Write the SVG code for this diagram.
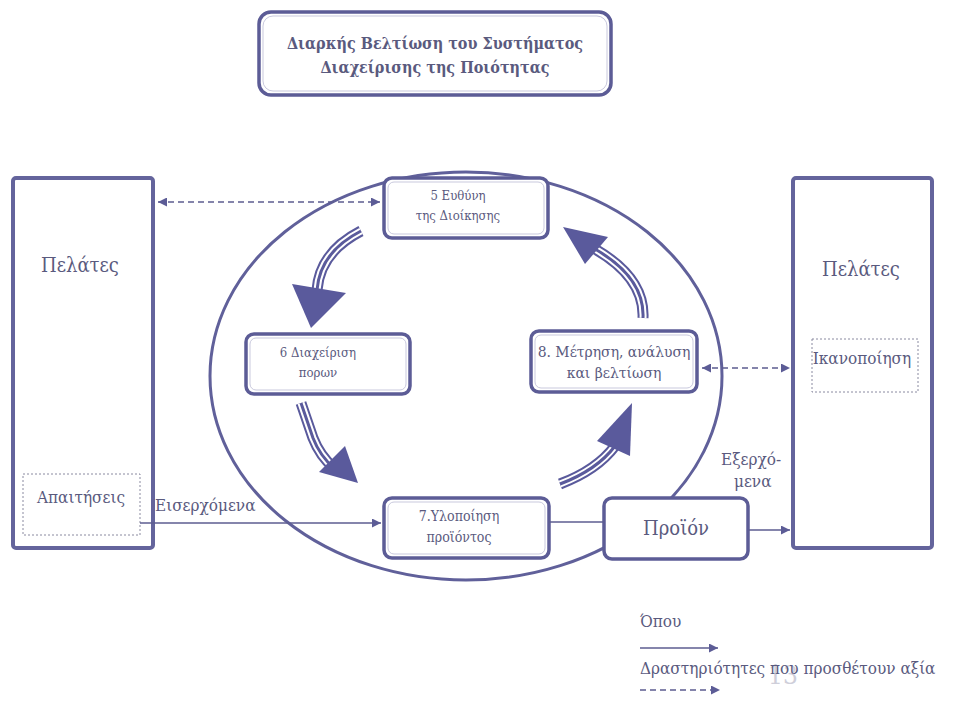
<svg xmlns="http://www.w3.org/2000/svg" width="957" height="704" viewBox="0 0 957 704">
<style>
text{font-family:'DejaVu Serif Condensed','DejaVu Serif',serif;font-stretch:condensed;fill:#5a5a7e}
.t14{text-anchor:middle}
.t15{font-size:17px}
.t17{font-size:20px;text-anchor:middle}
.box{fill:#fff;stroke:#5c5c96;stroke-width:3.5}
.inner{fill:none;stroke:#c9c9dd;stroke-width:1}
.big{fill:#fff;stroke:#64649c;stroke-width:4}
.dot{fill:#fff;stroke:#8a8aa0;stroke-width:1;stroke-dasharray:2 2}
.thin{fill:none;stroke:#5c5c90;stroke-width:1.5}
.dash{fill:none;stroke:#5c5c90;stroke-width:1.5;stroke-dasharray:6 4}
.s1{fill:none;stroke:#5a5a9c;stroke-width:11}
.s2{fill:none;stroke:#fff;stroke-width:7}
.s3{fill:none;stroke:#5a5a9c;stroke-width:3}
.head{fill:#5a5a9c}
</style>
<defs>
<marker id="ah" viewBox="0 0 10 10" refX="10" refY="5" markerWidth="10" markerHeight="9" markerUnits="userSpaceOnUse" orient="auto-start-reverse">
<path d="M0,0 L10,5 L0,10 z" fill="#5c5c96"/>
</marker>
</defs>
<rect width="957" height="704" fill="#fff"/>

<g id="title">
<rect class="box" x="259" y="12" width="352" height="83" rx="12" stroke-width="4"/>
<rect class="inner" x="263" y="16" width="344" height="75" rx="10"/>
<text x="435" y="49" font-size="16" font-weight="bold" text-anchor="middle">Διαρκής Βελτίωση του Συστήματος</text>
<text x="435" y="73" font-size="16" font-weight="bold" text-anchor="middle">Διαχείρισης της Ποιότητας</text>
</g>

<g id="cycle">
<ellipse cx="466" cy="376" rx="256" ry="204" fill="none" stroke="#60609a" stroke-width="3"/>
</g>

<g id="customers-left">
<rect class="big" x="13" y="178" width="140" height="370" rx="3"/>
<text class="t17" x="80" y="272">Πελάτες</text>
</g>
<g id="requirements">
<rect class="dot" x="23" y="474" width="117" height="61"/>
<text class="t15" x="81" y="503" text-anchor="middle">Απαιτήσεις</text>
</g>

<g id="customers-right">
<rect class="big" x="793" y="178" width="139" height="370" rx="3"/>
<text class="t17" x="861" y="276">Πελάτες</text>
</g>
<g id="satisfaction">
<rect class="dot" x="812" y="339" width="106" height="53"/>
<text class="t15" x="862" y="364" text-anchor="middle">Ικανοποίηση</text>
</g>

<g id="n5">
<rect class="box" x="384" y="178" width="164" height="60" rx="8"/>
<rect class="inner" x="388" y="182" width="156" height="52" rx="6"/>
<text class="t14" x="458" y="200" font-size="13">5 Ευθύνη</text>
<text class="t14" x="458" y="220" font-size="13">της Διοίκησης</text>
</g>
<g id="n6">
<rect class="box" x="246" y="334" width="164" height="60" rx="8"/>
<rect class="inner" x="250" y="338" width="156" height="52" rx="6"/>
<text class="t14" x="318" y="357" font-size="13">6 Διαχείριση</text>
<text class="t14" x="318" y="377" font-size="13">πορων</text>
</g>
<g id="n8">
<rect class="box" x="531" y="331" width="166" height="61" rx="8"/>
<rect class="inner" x="535" y="335" width="158" height="53" rx="6"/>
<text class="t14" x="614" y="357" font-size="15.5">8. Μέτρηση, ανάλυση</text>
<text class="t14" x="614" y="378" font-size="15.5">και βελτίωση</text>
</g>
<g id="n7">
<rect class="box" x="384" y="498" width="165" height="60" rx="8"/>
<rect class="inner" x="388" y="502" width="157" height="52" rx="6"/>
<text class="t14" x="459" y="521" font-size="14">7.Υλοποίηση</text>
<text class="t14" x="459" y="542" font-size="14">προϊόντος</text>
</g>
<g id="product">
<rect class="box" x="604" y="498" width="144" height="61" rx="8"/>
<text class="t17" x="676" y="535">Προϊόν</text>
</g>

<g id="connectors">
<path class="dash" d="M158,202 L380,202" marker-start="url(#ah)" marker-end="url(#ah)"/>
<path class="dash" d="M702,368 L790,368" marker-start="url(#ah)" marker-end="url(#ah)"/>
<path class="thin" d="M140,523 L381,523" marker-end="url(#ah)"/>
<path class="thin" d="M549,522 L604,522"/>
<path class="thin" d="M748,530 L790,530" marker-end="url(#ah)"/>

<path class="s1" d="M361,231 Q320,252 317,290"/>
<path class="s2" d="M361,231 Q320,252 317,290"/>
<path class="s3" d="M361,231 Q320,252 317,290"/>
<polygon class="head" points="292,284 346,293 311,328"/>

<path class="s1" d="M301,403 L313,438 Q320,456 334,468"/>
<path class="s2" d="M301,403 L313,438 Q320,456 334,468"/>
<path class="s3" d="M301,403 L313,438 Q320,456 334,468"/>
<polygon class="head" points="319,472 345,446 358,483"/>

<path class="s1" d="M560,484 Q597,470 615,446"/>
<path class="s2" d="M560,484 Q597,470 615,446"/>
<path class="s3" d="M560,484 Q597,470 615,446"/>
<polygon class="head" points="597,441 630,456 632,403"/>

<path class="s1" d="M643,318 Q645,278 595,249"/>
<path class="s2" d="M643,318 Q645,278 595,249"/>
<path class="s3" d="M643,318 Q645,278 595,249"/>
<polygon class="head" points="608,237 585,264 563,227"/>
</g>

<g id="labels">
<text class="t15" x="155" y="511">Εισερχόμενα</text>
<text class="t15" x="721" y="465">Εξερχό-</text>
<text class="t15" x="734" y="487">μενα</text>
</g>

<g id="legend">
<text x="768" y="684" font-size="26" style="fill:#cfcfda">13</text>
<text class="t15" x="640" y="627" font-size="16">Όπου</text>
<path class="thin" d="M640,648 L718,648" marker-end="url(#ah)"/>
<text class="t15" x="640" y="674">Δραστηριότητες που προσθέτουν αξία</text>
<path class="dash" d="M640,690 L720,690" marker-end="url(#ah)"/>
</g>
</svg>
